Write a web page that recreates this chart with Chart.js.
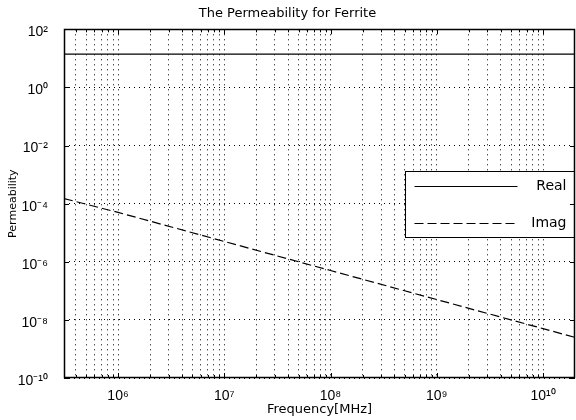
<!DOCTYPE html>
<html><head><meta charset="utf-8">
<script src="https://cdn.jsdelivr.net/npm/chart.js@4/dist/chart.umd.min.js"></script>
<style>html,body{margin:0;padding:0;background:#fff}</style>
</head><body>
<canvas id="c" width="576" height="420" style="display:block;width:576px;height:420px"></canvas>
<script>
// ---- data ----
const frequencies = [3.1e5, 1e6, 1e7, 1e8, 1e9, 1e10, 2e10];
const realPermeability = [14, 14, 14, 14, 14, 14, 14];
const imagPermeability = [1.5e-4, 5e-5, 5e-6, 5e-7, 5e-8, 5e-9, 2.5e-9];
const seriesNames = ['Real', 'Imag'];
const xDecades = [1e5, 1e6, 1e7, 1e8, 1e9, 1e10];
const yTickValues = [1e-10, 1e-8, 1e-6, 1e-4, 1e-2, 1e0, 1e2];
const xRange = [3.1e5, 2e10];
const yRange = [1e-10, 1e2];
const chartTitle = 'The Permeability for Ferrite';
const xTitle = 'Frequency[MHz]';
const yTitle = 'Permeability';

const SUP = {'0':'⁰','1':'¹','2':'²','3':'³','4':'⁴','5':'⁵','6':'⁶','7':'⁷','8':'⁸','9':'⁹','-':'⁻'};
function powLabel(v){
  const e = Math.log10(v);
  const r = Math.round(e);
  if (Math.abs(e - r) > 1e-6) return '';
  return '10' + String(r).split('').map(c => SUP[c]).join('');
}
function isDecade(v){ const e = Math.log10(v); return Math.abs(e - Math.round(e)) < 1e-6; }

// grid positions 1..9 x 10^k strictly inside the range (edges are the frame)
const xGridValues = [];
xDecades.forEach(d => { for (let m = 1; m <= 9; m++) { const v = m * d; if (v > xRange[0] * 1.001 && v < xRange[1] * 0.999) xGridValues.push(v); } });

const toPoints = ys => frequencies.map((f, i) => ({x: f, y: ys[i]}));

const framePlugin = {
  id: 'frame',
  afterDatasetsDraw(chart){
    const ctx = chart.ctx, ca = chart.chartArea;
    // legend box inside plot, right edge on the plot border
    const x0 = Math.round(ca.left + 341) + 0.5, y0 = Math.round(ca.top + 142) + 0.5;
    const x1 = Math.round(ca.right) - 0.5;
    const w = x1 - x0, h = 66;
    ctx.save();
    ctx.fillStyle = '#fff';
    ctx.fillRect(x0, y0, w, h);
    ctx.strokeStyle = '#000'; ctx.lineWidth = 1;
    ctx.strokeRect(x0, y0, w, h);
    const ds = chart.data.datasets;
    const rows = [y0 + 14, y0 + 51];
    ctx.font = '14px "DejaVu Sans"';
    ctx.fillStyle = '#000';
    ctx.textAlign = 'right'; ctx.textBaseline = 'middle';
    ds.forEach((d, i) => {
      ctx.beginPath();
      ctx.setLineDash(d.borderDash || []);
      ctx.lineWidth = d.borderWidth;
      ctx.strokeStyle = d.borderColor;
      ctx.moveTo(x0 + 9, Math.round(rows[i]) + 0.5);
      ctx.lineTo(x0 + 112, Math.round(rows[i]) + 0.5);
      ctx.stroke();
      ctx.setLineDash([]);
      ctx.fillText(d.label, x0 + 161, rows[i] + 1);
    });
    ctx.restore();
  },
  afterDraw(chart){
    const ctx = chart.ctx, ca = chart.chartArea;
    const xs = chart.scales.x, ys = chart.scales.y;
    ctx.save();
    ctx.strokeStyle = '#000'; ctx.lineWidth = 1; ctx.setLineDash([]);
    ctx.beginPath();
    xs.ticks.forEach(t => {
      const px = Math.round(xs.getPixelForValue(t.value)) + 0.5;
      const L = isDecade(t.value) ? 5 : 3;
      ctx.moveTo(px, ca.bottom); ctx.lineTo(px, ca.bottom - L);
      ctx.moveTo(px, ca.top); ctx.lineTo(px, ca.top + L);
    });
    ys.ticks.forEach(t => {
      const py = Math.round(ys.getPixelForValue(t.value)) + 0.5;
      ctx.moveTo(ca.left, py); ctx.lineTo(ca.left + 5, py);
      ctx.moveTo(ca.right, py); ctx.lineTo(ca.right - 5, py);
    });
    ctx.stroke();
    ctx.lineWidth = 1.5;
    ctx.strokeRect(Math.round(ca.left) + 0.5, Math.round(ca.top) + 0.5, Math.round(ca.right - ca.left) - 1, Math.round(ca.bottom - ca.top) - 1);
    ctx.restore();
  }
};

new Chart(document.getElementById('c'), {
  type: 'line',
  data: {
    datasets: [
      {label: seriesNames[0], data: toPoints(realPermeability), borderColor: '#000', borderWidth: 1.2, pointRadius: 0, fill: false, tension: 0},
      {label: seriesNames[1], data: toPoints(imagPermeability), borderColor: '#000', borderWidth: 1.2, borderDash: [9, 4], pointRadius: 0, fill: false, tension: 0}
    ]
  },
  options: {
    responsive: false, animation: false, devicePixelRatio: 1,
    layout: {padding: {left: 0, right: 1, top: 0, bottom: 0}},
    plugins: {
      legend: {display: false},
      tooltip: {enabled: false},
      title: {display: true, text: chartTitle, color: '#000', font: {family: 'DejaVu Sans', size: 13, weight: 'normal'}, padding: {top: 6, bottom: 7.7}}
    },
    scales: {
      x: {
        type: 'logarithmic', min: xRange[0], max: xRange[1],
        afterBuildTicks(s){ s.ticks = xGridValues.map(v => ({value: v})); },
        afterFit(s){ s.height = 42; s.paddingLeft = 0; s.paddingRight = 0; },
        grid: {color: '#000', lineWidth: 1, drawTicks: false, tickLength: 0},
        border: {display: false, dash: [1, 4]},
        ticks: {autoSkip: false, maxRotation: 0, minRotation: 0, padding: 10, color: '#000',
                font: {family: 'Liberation Sans', size: 14}, callback: v => powLabel(v)},
        title: {display: true, text: xTitle, color: '#000', font: {family: 'DejaVu Sans', size: 13}, padding: {top: 0, bottom: 3}}
      },
      y: {
        type: 'logarithmic', min: yRange[0], max: yRange[1],
        afterBuildTicks(s){ s.ticks = yTickValues.map(v => ({value: v})); },
        afterFit(s){ s.width = 64; },
        grid: {color: '#000', lineWidth: 1, drawTicks: false, tickLength: 0},
        border: {display: false, dash: [1, 4]},
        ticks: {autoSkip: false, padding: 16, labelOffset: 3, color: '#000',
                font: {family: 'Liberation Sans', size: 14}, callback: v => powLabel(v)},
        title: {display: true, text: yTitle, color: '#000', font: {family: 'DejaVu Sans', size: 11}, padding: {top: 7, bottom: 0}}
      }
    }
  },
  plugins: [framePlugin]
});
</script>
</body></html>
